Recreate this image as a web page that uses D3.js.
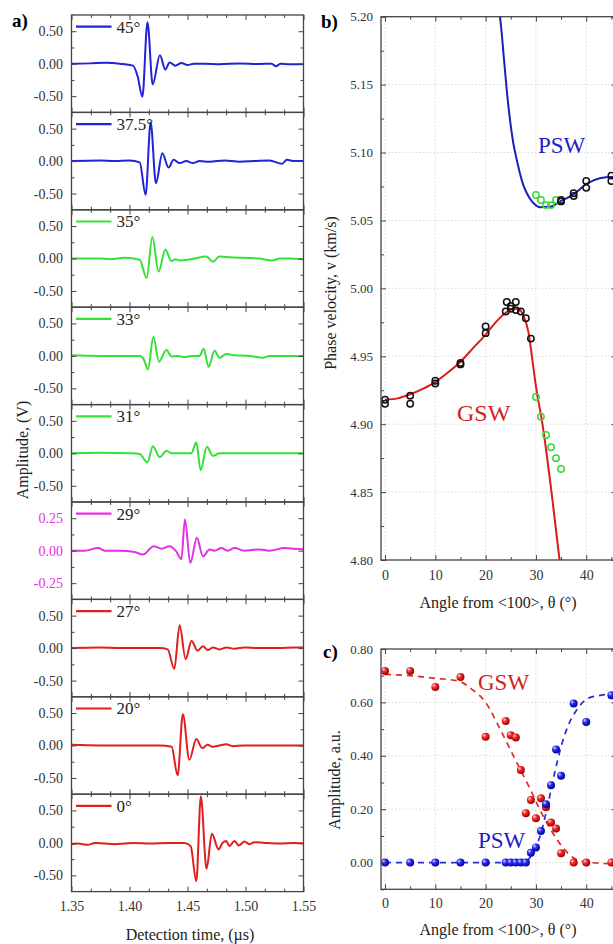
<!DOCTYPE html>
<html>
<head>
<meta charset="utf-8">
<script src="https://cdnjs.cloudflare.com/ajax/libs/d3/7.8.5/d3.min.js"></script>
<style>
  body { margin: 0; background: #fff; }
  svg { display: block; font-family: "Liberation Serif", "Times New Roman", serif; }
  svg text { font-family: "Liberation Serif", "Times New Roman", serif; }
</style>
</head>
<body>
<svg id="chart" width="613" height="944"></svg>
<script>
// ---- a) waveforms, [time (µs), amplitude (V)]
const w45 = [[1.35,0],[1.3657,0.005],[1.38,0.015],[1.3916,0],[1.403,-0.03],[1.4071,-0.2],[1.4111,-0.51],[1.4155,0.64],[1.42,-0.32],[1.4262,0.13],[1.4309,-0.09],[1.4346,0.02],[1.4395,-0.03],[1.4447,0.01],[1.45,-0.02],[1.4553,0],[1.4647,0],[1.4776,-0.01],[1.4948,0.005],[1.512,-0.005],[1.5225,0],[1.5264,-0.04],[1.5301,0],[1.5379,-0.01],[1.55,-0.01]];
const w375 = [[1.35,0],[1.3744,0.01],[1.3873,0],[1.4002,0.01],[1.4088,-0.02],[1.4139,-0.52],[1.4182,0.6],[1.4228,-0.34],[1.4283,0.12],[1.4337,-0.1],[1.438,0.02],[1.4432,-0.03],[1.449,0],[1.4546,-0.03],[1.4604,0],[1.469,-0.01],[1.4819,0.01],[1.4948,-0.01],[1.5077,0],[1.5207,0.01],[1.5316,-0.04],[1.5356,0.02],[1.5422,0],[1.55,0]];
const w35 = [[1.35,0],[1.3744,0],[1.383,-0.01],[1.3959,0.01],[1.4088,-0.02],[1.4148,-0.3],[1.4197,0.33],[1.4251,-0.2],[1.4309,0.14],[1.4361,-0.04],[1.4398,-0.01],[1.4432,-0.03],[1.4501,-0.02],[1.4561,0],[1.4662,0.03],[1.4719,-0.05],[1.4776,0.03],[1.4862,0.02],[1.4991,0.01],[1.512,0],[1.5232,-0.03],[1.5293,0],[1.5379,0],[1.55,-0.01]];
const w33 = [[1.35,0.01],[1.3744,0],[1.3916,0],[1.4088,0],[1.4122,-0.05],[1.4159,-0.21],[1.4206,0.29],[1.4254,-0.09],[1.4318,0.09],[1.4363,-0.01],[1.4415,0],[1.4475,-0.02],[1.4535,0],[1.4604,0],[1.4639,0.11],[1.4682,-0.17],[1.4733,0.08],[1.4776,-0.03],[1.4834,0.03],[1.4905,0.01],[1.5034,0],[1.5149,-0.03],[1.5207,0],[1.5336,0],[1.55,0]];
const w31 = [[1.35,0],[1.3744,0.01],[1.4002,0],[1.4088,-0.01],[1.4154,-0.14],[1.4202,0.11],[1.426,-0.06],[1.4318,0.04],[1.4363,0],[1.4432,0],[1.4533,0],[1.4576,0.17],[1.4613,-0.26],[1.4667,0.1],[1.4719,-0.04],[1.4776,0],[1.4948,0],[1.5207,0],[1.55,0]];
const w29 = [[1.35,0],[1.3614,0],[1.3729,0.02],[1.3787,0],[1.3916,0],[1.4045,-0.01],[1.4116,-0.03],[1.4208,0.035],[1.4277,0.015],[1.4346,0.035],[1.4398,0],[1.4447,-0.065],[1.4478,0.24],[1.4524,-0.095],[1.4581,0.1],[1.4633,-0.045],[1.469,0.01],[1.4733,0],[1.4793,0.02],[1.4845,0],[1.4905,0.02],[1.4991,0],[1.512,0.01],[1.5207,0],[1.5336,0.02],[1.5422,0.015],[1.55,0.01]];
const w27 = [[1.35,0],[1.3744,0.01],[1.3916,0],[1.4088,0],[1.426,0],[1.4329,-0.02],[1.4386,-0.32],[1.4432,0.35],[1.4484,-0.17],[1.4535,0.11],[1.4587,-0.04],[1.4633,0.03],[1.4676,-0.03],[1.4719,0.01],[1.4776,-0.02],[1.4837,0.01],[1.4905,-0.01],[1.4991,0.01],[1.512,0],[1.5293,0],[1.5422,0.01],[1.55,0.01]];
const w20 = [[1.35,0.01],[1.3744,0],[1.4002,0],[1.426,0],[1.4363,-0.02],[1.4415,-0.46],[1.446,0.48],[1.4516,-0.22],[1.4576,0.1],[1.4627,-0.04],[1.4673,0.01],[1.4716,-0.02],[1.4776,0],[1.4834,0.02],[1.4888,-0.01],[1.4991,0],[1.5207,0],[1.55,0]];
const w0 = [[1.35,-0.02],[1.3554,-0.01],[1.364,-0.03],[1.3701,0],[1.3787,-0.01],[1.3873,-0.02],[1.3959,-0.01],[1.4045,0],[1.4174,-0.01],[1.4346,0],[1.4475,0],[1.4527,-0.05],[1.4576,-0.59],[1.4615,0.72],[1.4664,-0.4],[1.471,0.14],[1.4768,-0.1],[1.4802,0],[1.4834,0.03],[1.4862,-0.05],[1.4905,0.03],[1.4942,-0.04],[1.4991,0.02],[1.5034,-0.02],[1.5077,0.01],[1.5164,0],[1.5293,-0.01],[1.5422,0],[1.55,-0.01]];

const angleLabels = ['45°', '37.5°', '35°', '33°', '31°', '29°', '27°', '20°', '0°'];
const traces = [w45, w375, w35, w33, w31, w29, w27, w20, w0];
const timeTicks = [1.35, 1.40, 1.45, 1.50, 1.55];

// ---- b) phase velocity (km/s) vs angle (deg)
const bGswExp = [[0,4.918],[0,4.915],[5,4.921],[5,4.915],[10,4.932],[10,4.930],[15,4.945],[15,4.944],[20,4.972],[20,4.967],[24,4.983],[24.2,4.990],[25,4.985],[25,4.987],[26,4.990],[26,4.984],[27,4.983],[28,4.978],[29,4.963]];
const bPswExp = [[35,5.064],[35,5.065],[37.5,5.068],[37.5,5.070],[40,5.074],[40,5.079],[45,5.083],[45,5.079]];
const bGswGreen = [[30,4.920],[31,4.9055],[32,4.892],[33,4.883],[34,4.875],[35,4.867]];
const bPswGreen = [[30,5.0687],[31,5.065],[32,5.0613],[33,5.0613],[34,5.065]];
const bGswFit = [[0,4.918],[2.5,4.919],[5,4.922],[7.5,4.926],[10,4.931],[12.5,4.938],[15,4.946],[17.5,4.956],[20,4.966],[22,4.975],[24,4.982],[25.5,4.985],[26.5,4.985],[27.5,4.98],[28.5,4.968],[29.2,4.95],[30,4.928],[31.3,4.9],[33.1,4.85],[34.7,4.8]];
const bPswFit = [[22.86,5.2],[23.2,5.188],[23.5,5.175],[24.2,5.146],[24.85,5.124],[25.5,5.107],[26.2,5.0945],[26.8,5.085],[27.5,5.076],[28.2,5.07],[29.2,5.064],[30.2,5.0606],[30.8,5.0597],[32.8,5.06],[34.8,5.064],[37.4,5.069],[40.1,5.077],[42.7,5.081],[45.1,5.082],[46,5.082]];
const velTicks = [4.80, 4.85, 4.90, 4.95, 5.00, 5.05, 5.10, 5.15, 5.20];
const angleTicks = [0, 10, 20, 30, 40];

// ---- c) amplitude (a.u.) vs angle (deg)
const cGsw = [[0,0.718],[5,0.718],[10,0.658],[15,0.695],[20,0.471],[24,0.53],[25,0.477],[26,0.469],[27,0.347],[28,0.185],[29,0.234],[30,0.166],[31,0.241],[32,0.207],[33,0.15],[34,0.128],[35,0.035],[37.5,0],[40,0],[45,0]];
const cPsw = [[0,0],[5,0],[10,0],[15,0],[20,0],[24,0],[25,0],[26,0],[27,0],[28,0],[29,0.037],[30,0.057],[31,0.118],[32,0.219],[33,0.29],[34,0.424],[35,0.325],[37.5,0.596],[40,0.527],[45,0.627]];
const cGswFit = [[0,0.705],[5,0.7],[10,0.69],[14.6,0.68],[17.2,0.65],[20,0.6],[22.6,0.51],[25,0.42],[27,0.345],[29,0.27],[31,0.19],[33,0.122],[35.4,0.055],[38,0.012],[41,0],[46,-0.005]];
const cPswFit = [[0,0],[10,0],[20,0],[26,0],[27.5,0.003],[28.4,0.01],[29.7,0.048],[31,0.11],[32.4,0.22],[33.7,0.334],[35,0.434],[36.3,0.508],[38.3,0.577],[40.3,0.615],[43,0.627],[46,0.634]];
const ampTicks = [0, 0.2, 0.4, 0.6, 0.8];

const SERIF = '"Liberation Serif", "Times New Roman", serif';
const svg = d3.select('#chart');
const defs = svg.append('defs');

const BLUE = '#2222d6', GREEN = '#36e036', MAGENTA = '#e52ee5', RED = '#e01e1e';
const traceColors = [BLUE, BLUE, GREEN, GREEN, GREEN, MAGENTA, RED, RED, RED];

// inward ticks on all four sides + frame (Origin style)
function axes(g, x, y, o) {
  const [xl, xr] = x.range(), [yb, yt] = y.range();
  const put = (axis, tx, ty) => {
    const a = g.append('g').attr('transform', `translate(${tx},${ty})`).call(axis);
    a.select('.domain').remove();
    a.attr('font-family', SERIF);
    a.selectAll('line').attr('stroke', '#444').attr('stroke-width', 1);
    a.selectAll('text').attr('font-family', SERIF);
    return a;
  };
  const none = () => '';
  const bt = put(d3.axisBottom(x).tickValues(o.xMajor).tickSize(-5).tickPadding(o.xPad || 0)
    .tickFormat(o.xFmt || none), 0, yb);
  bt.selectAll('text').attr('font-size', o.xFont).attr('fill', '#333');
  put(d3.axisBottom(x).tickValues(o.xMinor).tickSize(-3).tickFormat(none), 0, yb);
  put(d3.axisTop(x).tickValues(o.xMajor).tickSize(-5).tickFormat(none), 0, yt);
  put(d3.axisTop(x).tickValues(o.xMinor).tickSize(-3).tickFormat(none), 0, yt);
  const lt = put(d3.axisLeft(y).tickValues(o.yMajor).tickSize(-5).tickPadding(o.yPad)
    .tickFormat(o.yFmt), xl, 0);
  lt.selectAll('text').attr('font-size', o.yFont).attr('fill', o.yColor || '#333');
  put(d3.axisLeft(y).tickValues(o.yMinor).tickSize(-3).tickFormat(none), xl, 0);
  put(d3.axisRight(y).tickValues(o.yMajor).tickSize(-5).tickFormat(none), xr, 0);
  put(d3.axisRight(y).tickValues(o.yMinor).tickSize(-3).tickFormat(none), xr, 0);
  g.append('rect').attr('x', xl).attr('y', yt).attr('width', xr - xl).attr('height', yb - yt)
    .attr('fill', 'none').attr('stroke', '#444').attr('stroke-width', 1.3);
}

function grid(g, x, y, xs, ys) {
  const [xl, xr] = x.range(), [yb, yt] = y.range();
  g.selectAll(null).data(xs).join('line')
    .attr('x1', d => x(d)).attr('x2', d => x(d)).attr('y1', yt).attr('y2', yb)
    .attr('stroke', '#cfcfcf').attr('stroke-width', 0.8).attr('stroke-dasharray', '1.5,2');
  g.selectAll(null).data(ys).join('line')
    .attr('x1', xl).attr('x2', xr).attr('y1', d => y(d)).attr('y2', d => y(d))
    .attr('stroke', '#cfcfcf').attr('stroke-width', 0.8).attr('stroke-dasharray', '1.5,2');
}

function clip(id, x, y) {
  const [xl, xr] = x.range(), [yb, yt] = y.range();
  defs.append('clipPath').attr('id', id).append('rect')
    .attr('x', xl).attr('y', yt).attr('width', xr - xl).attr('height', yb - yt);
  return `url(#${id})`;
}

const fmt2 = d => d.toFixed(2);

// ================= a) =================
const xA = d3.scaleLinear().domain([1.35, 1.55]).range([71.5, 303.5]);
const aTop = 15, aH = 97.4;
const minorTime = d3.range(0, 13).map(i => 1.35 + i * 0.05 / 3).filter((d, i) => i % 3 !== 0);

traces.forEach((data, i) => {
  const g = svg.append('g');
  const top = aTop + i * aH;
  const lim = i === 5 ? 0.375 : 0.75;
  const y = d3.scaleLinear().domain([-lim, lim]).range([top + aH, top]);
  const major = i === 5 ? [-0.25, 0, 0.25] : [-0.5, 0, 0.5];
  const minor = i === 5 ? [-0.125, 0.125] : [-0.25, 0.25];
  const color = traceColors[i];

  g.append('path').datum(data)
    .attr('clip-path', clip('clipA' + i, xA, y))
    .attr('fill', 'none').attr('stroke', color).attr('stroke-width', 2)
    .attr('stroke-linejoin', 'round')
    .attr('d', d3.line().x(d => xA(d[0])).y(d => y(d[1])).curve(d3.curveMonotoneX));

  axes(g, xA, y, {
    xMajor: timeTicks, xMinor: minorTime,
    xFmt: i === 8 ? fmt2 : null, xPad: 9, xFont: 14,
    yMajor: major, yMinor: minor, yFmt: fmt2, yPad: 8.5, yFont: 14,
    yColor: i === 5 ? MAGENTA : '#333'
  });

  // legend
  g.append('line').attr('x1', 76).attr('x2', 111.5).attr('y1', top + 11.7).attr('y2', top + 11.7)
    .attr('stroke', color).attr('stroke-width', 2.2);
  g.append('text').attr('x', 116.5).attr('y', top + 17.5).attr('font-size', 17).attr('fill', '#222')
    .text(angleLabels[i]);
});

svg.append('text').attr('transform', 'translate(28,450) rotate(-90)').attr('text-anchor', 'middle')
  .attr('font-size', 16).attr('fill', '#222').text('Amplitude, (V)');
svg.append('text').attr('x', 190).attr('y', 940).attr('text-anchor', 'middle')
  .attr('font-size', 16).attr('fill', '#222').text('Detection time, (µs)');
svg.append('text').attr('x', 12).attr('y', 27).attr('font-size', 19).attr('font-weight', 'bold').text('a)');

// ================= b) =================
const xB = d3.scaleLinear().domain([-0.8, 46]).range([381, 616.4]);
const yB = d3.scaleLinear().domain([4.80, 5.20]).range([560, 16.7]);
const gB = svg.append('g');
grid(gB, xB, yB, angleTicks, velTicks.slice(1, -1));
const clipB = clip('clipB', xB, yB);
const lineB = d3.line().x(d => xB(d[0])).y(d => yB(d[1])).curve(d3.curveMonotoneX);
gB.append('path').datum(bGswFit).attr('clip-path', clipB).attr('fill', 'none')
  .attr('stroke', '#d81c1c').attr('stroke-width', 2).attr('d', lineB);
gB.append('path').datum(bPswFit).attr('clip-path', clipB).attr('fill', 'none')
  .attr('stroke', '#1e1eb8').attr('stroke-width', 2).attr('d', lineB);

function openCircles(g, data, color) {
  g.selectAll(null).data(data).join('circle')
    .attr('cx', d => xB(d[0])).attr('cy', d => yB(d[1])).attr('r', 3.2)
    .attr('fill', 'none').attr('stroke', color).attr('stroke-width', 1.5);
}
openCircles(gB, bGswGreen, '#3ad83a');
openCircles(gB, bPswGreen, '#3ad83a');
openCircles(gB, bGswExp, '#111');
openCircles(gB, bPswExp, '#111');

axes(gB, xB, yB, {
  xMajor: angleTicks, xMinor: [5, 15, 25, 35, 45], xFmt: d => d, xPad: 10, xFont: 14,
  yMajor: velTicks, yMinor: velTicks.slice(0, -1).map(d => d + 0.025), yFmt: fmt2, yPad: 8, yFont: 13
});

gB.append('text').attr('x', 538).attr('y', 153).attr('font-size', 23).attr('fill', '#1e1ec8').text('PSW');
gB.append('text').attr('x', 457).attr('y', 421).attr('font-size', 24).attr('fill', '#d41e1e').text('GSW');
svg.append('text').attr('transform', 'translate(336,293) rotate(-90)').attr('text-anchor', 'middle')
  .attr('font-size', 16).attr('fill', '#222').text('Phase velocity, v (km/s)');
svg.append('text').attr('x', 498).attr('y', 608).attr('text-anchor', 'middle')
  .attr('font-size', 16).attr('fill', '#222').text('Angle from <100>, θ (°)');
svg.append('text').attr('x', 321).attr('y', 28).attr('font-size', 19).attr('font-weight', 'bold').text('b)');

// ================= c) =================
const xC = d3.scaleLinear().domain([-0.8, 46]).range([381, 616.4]);
const yC = d3.scaleLinear().domain([-0.10, 0.80]).range([889.3, 649]);
const gC = svg.append('g');
grid(gC, xC, yC, angleTicks, ampTicks.slice(0, -1));

function ball(id, hi, mid, lo) {
  const gr = defs.append('radialGradient').attr('id', id)
    .attr('cx', '40%').attr('cy', '40%').attr('r', '60%').attr('fx', '30%').attr('fy', '28%');
  gr.append('stop').attr('offset', '0%').attr('stop-color', hi);
  gr.append('stop').attr('offset', '45%').attr('stop-color', mid);
  gr.append('stop').attr('offset', '100%').attr('stop-color', lo);
}
ball('ballRed', '#ffd6d6', '#f02a2a', '#9a0000');
ball('ballBlue', '#d6d6ff', '#2a2af0', '#00009a');

const clipC = clip('clipC', xC, yC);
const lineC = d3.line().x(d => xC(d[0])).y(d => yC(d[1])).curve(d3.curveMonotoneX);
gC.append('path').datum(cGswFit).attr('clip-path', clipC).attr('fill', 'none')
  .attr('stroke', '#e02a2a').attr('stroke-width', 1.7).attr('stroke-dasharray', '6,5').attr('d', lineC);
gC.append('path').datum(cPswFit).attr('clip-path', clipC).attr('fill', 'none')
  .attr('stroke', '#2a2ad8').attr('stroke-width', 1.7).attr('stroke-dasharray', '6,5').attr('d', lineC);

function balls(g, data, fill) {
  g.selectAll(null).data(data).join('circle')
    .attr('cx', d => xC(d[0])).attr('cy', d => yC(d[1])).attr('r', 4)
    .attr('fill', `url(#${fill})`);
}
balls(gC, cGsw, 'ballRed');
balls(gC, cPsw, 'ballBlue');

axes(gC, xC, yC, {
  xMajor: angleTicks, xMinor: [5, 15, 25, 35, 45], xFmt: d => d, xPad: 9, xFont: 14,
  yMajor: ampTicks, yMinor: [-0.1, 0.1, 0.3, 0.5, 0.7], yFmt: fmt2, yPad: 8, yFont: 13
});

gC.append('text').attr('x', 478).attr('y', 690).attr('font-size', 23).attr('fill', '#d41e1e').text('GSW');
gC.append('text').attr('x', 478).attr('y', 848).attr('font-size', 23).attr('fill', '#1e1ec8').text('PSW');
svg.append('text').attr('transform', 'translate(340,780) rotate(-90)').attr('text-anchor', 'middle')
  .attr('font-size', 16).attr('fill', '#222').text('Amplitude, a.u.');
svg.append('text').attr('x', 498).attr('y', 935).attr('text-anchor', 'middle')
  .attr('font-size', 16).attr('fill', '#222').text('Angle from <100>, θ (°)');
svg.append('text').attr('x', 323).attr('y', 658).attr('font-size', 19).attr('font-weight', 'bold').text('c)');
</script>
</body>
</html>
